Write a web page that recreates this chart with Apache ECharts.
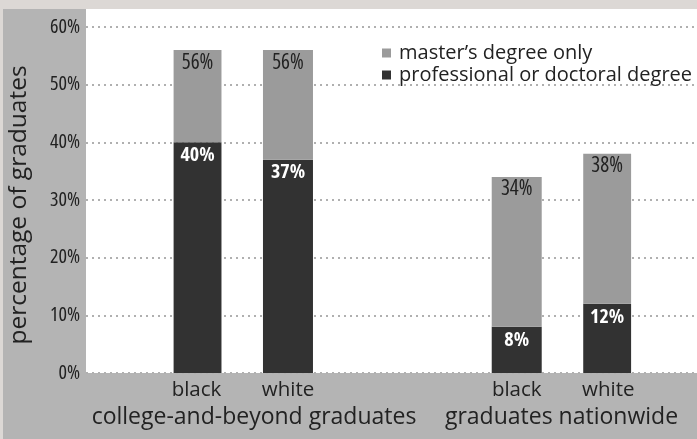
<!DOCTYPE html>
<html>
<head>
<meta charset="utf-8">
<script src="https://cdn.jsdelivr.net/npm/echarts@6/dist/echarts.min.js"></script>
<style>
html,body{margin:0;padding:0;background:#dcd8d5;}
#chart{width:697px;height:439px;}
</style>
</head>
<body>
<div id="chart"></div>
<script>
// ---- data ----
const groups = ['college-and-beyond graduates', 'graduates nationwide'];
const races = ['black', 'white'];
const totalPct = [56, 56, 34, 38];      // master's degree or higher (bar totals)
const profPct = [40, 37, 8, 12];        // professional or doctoral degree
const seriesNames = ["master\u2019s degree only", 'professional or doctoral degree'];
const yTickValues = [0, 10, 20, 30, 40, 50, 60];
const yTitle = 'percentage of graduates';

// ---- build slots (bars sit in slots 0,2 and 7,9 of a 10-slot axis) ----
const barSlots = [0, 2, 7, 9];
const nSlots = 10;
const slotLabels = [];
const profData = [];
const masterData = [];
for (let i = 0; i < nSlots; i++) { slotLabels.push('s' + i); profData.push(null); masterData.push(null); }
const slotRace = {};
const slotTotal = {};
const slotProf = {};
barSlots.forEach((s, k) => {
  slotRace[s] = races[k % 2];
  slotTotal[s] = totalPct[k];
  slotProf[s] = profPct[k];
  profData[s] = profPct[k];
  masterData[s] = totalPct[k] - profPct[k];
});

const humanist = '"Open Sans", "Noto Sans", sans-serif';
const dark = '#323232';
const mid = '#9b9b9b';
const textCol = '#222222';

const chart = echarts.init(document.getElementById('chart'), null, {renderer: 'canvas'});
chart.setOption({
  animation: false,
  backgroundColor: 'transparent',
  graphic: [
    {type: 'rect', z: -100, shape: {x: 3, y: 9, width: 694, height: 430}, style: {fill: '#b4b4b4'}},
    {type: 'rect', z: -99, shape: {x: 86, y: 9, width: 611, height: 364}, style: {fill: '#ffffff'}},
    {type: 'text', z: 10, x: 254, y: 417, style: {text: groups[0], font: '23px ' + humanist, fill: textCol, textAlign: 'center', textVerticalAlign: 'middle'}},
    {type: 'text', z: 10, x: 561.5, y: 417, style: {text: groups[1], font: '23px ' + humanist, fill: textCol, textAlign: 'center', textVerticalAlign: 'middle'}},
    {type: 'text', z: 10, x: 19, y: 205, rotation: Math.PI / 2, style: {text: yTitle, font: '24.5px ' + humanist, fill: textCol, textAlign: 'center', textVerticalAlign: 'middle'}}
  ],
  legend: {
    orient: 'vertical',
    left: 377, top: 37,
    itemWidth: 9, itemHeight: 9,
    itemGap: 0,
    icon: 'rect',
    data: [seriesNames[0], seriesNames[1]],
    textStyle: {fontFamily: humanist, fontSize: 20, color: textCol, lineHeight: 22, padding: [0, 0, 0, 3]}
  },
  grid: [
    {left: 86, right: 0, top: 27, bottom: 66},
    {left: 173.6, width: 457.5, top: 27, bottom: 66}
  ],
  xAxis: [
    {gridIndex: 0, type: 'value', show: false, min: 0, max: 1},
    {gridIndex: 1, type: 'category', data: slotLabels, boundaryGap: true,
      axisLine: {show: false}, axisTick: {show: false},
      axisLabel: {interval: 0, margin: 7, fontFamily: humanist, fontSize: 20.5, color: textCol,
        formatter: (v, i) => slotRace[i] || ''}}
  ],
  yAxis: [
    {gridIndex: 0, type: 'value', min: 0, max: 60, interval: 10,
      axisLine: {show: false}, axisTick: {show: false},
      axisLabel: {margin: 6, fontFamily: humanist, fontWeight: 'condensed', fontSize: 20, color: textCol,
        formatter: v => yTickValues.indexOf(v) >= 0 ? v + '%' : ''},
      splitLine: {show: true, lineStyle: {color: '#b0b0b0', width: 2, type: [2, 4]}}},
    {gridIndex: 1, type: 'value', min: 0, max: 60, interval: 10, show: false}
  ],
  series: [
    {name: seriesNames[1], type: 'bar', xAxisIndex: 1, yAxisIndex: 1, stack: 'a', barWidth: 50,
      data: profData, itemStyle: {color: dark},
      label: {show: true, position: 'insideTop', distance: 3, fontFamily: humanist, fontWeight: 'bold condensed', fontSize: 20, color: '#ffffff',
        formatter: p => slotProf[p.dataIndex] + '%'}},
    {name: seriesNames[0], type: 'bar', xAxisIndex: 1, yAxisIndex: 1, stack: 'a', barWidth: 50,
      data: masterData, itemStyle: {color: mid},
      label: {show: true, position: 'insideTop', distance: 2, fontFamily: humanist, fontWeight: 'condensed', fontSize: 21, color: textCol,
        formatter: p => slotTotal[p.dataIndex] + '%'}}
  ]
});
</script>
</body>
</html>
